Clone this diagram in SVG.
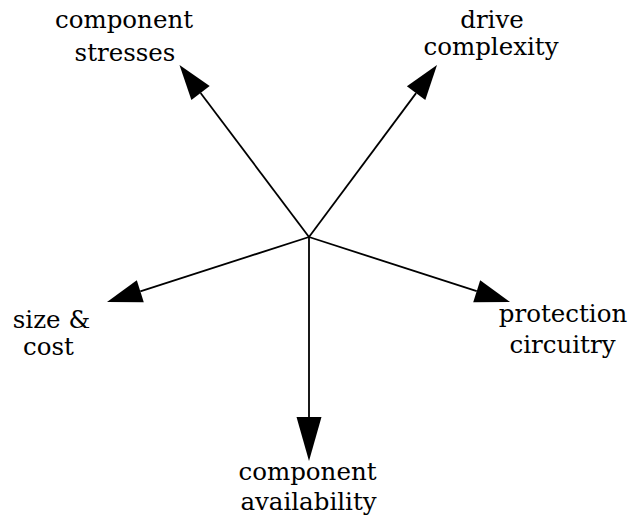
<svg xmlns="http://www.w3.org/2000/svg" width="631" height="522" viewBox="0 0 631 522">
  <style>
    .shaft { stroke: #000; stroke-width: 1.8; fill: none; }
    .head { fill: #000; stroke: none; }
    text { font-family: "DejaVu Serif", "Liberation Serif", serif; font-size: 24.5px; fill: #000; text-anchor: middle; }
  </style>
  <rect width="631" height="522" fill="#fff"/>

  <!-- five spokes radiating from the centre point -->
  <g id="connectors">
    <line class="shaft" x1="309" y1="237" x2="200.6" y2="93"/>
    <polygon class="head" points="179.5,65 209.7,86 191.4,99.9"/>

    <line class="shaft" x1="309" y1="237" x2="416.1" y2="93.1"/>
    <polygon class="head" points="437,65 425.3,100 406.9,86.2"/>

    <line class="shaft" x1="309" y1="237" x2="140.3" y2="291.3"/>
    <polygon class="head" points="107,302 136.8,280.3 143.8,302.2"/>

    <line class="shaft" x1="309" y1="237" x2="476.7" y2="291.2"/>
    <polygon class="head" points="510,302 480.2,280.3 473.2,302.2"/>

    <line class="shaft" x1="309" y1="237" x2="309" y2="418"/>
    <polygon class="head" points="309,461 296.5,417 321.5,417"/>
  </g>

  <g id="component-stresses">
    <text x="124" y="28">component</text>
    <text x="125" y="61">stresses</text>
  </g>

  <g id="drive-complexity">
    <text x="492" y="28">drive</text>
    <text x="491" y="55">complexity</text>
  </g>

  <g id="size-cost">
    <text x="51.5" y="328">size &amp;</text>
    <text x="48.5" y="355">cost</text>
  </g>

  <g id="protection-circuitry">
    <text x="563" y="322">protection</text>
    <text x="562.5" y="353">circuitry</text>
  </g>

  <g id="component-availability">
    <text x="307.5" y="480">component</text>
    <text x="308.5" y="510">availability</text>
  </g>
</svg>
